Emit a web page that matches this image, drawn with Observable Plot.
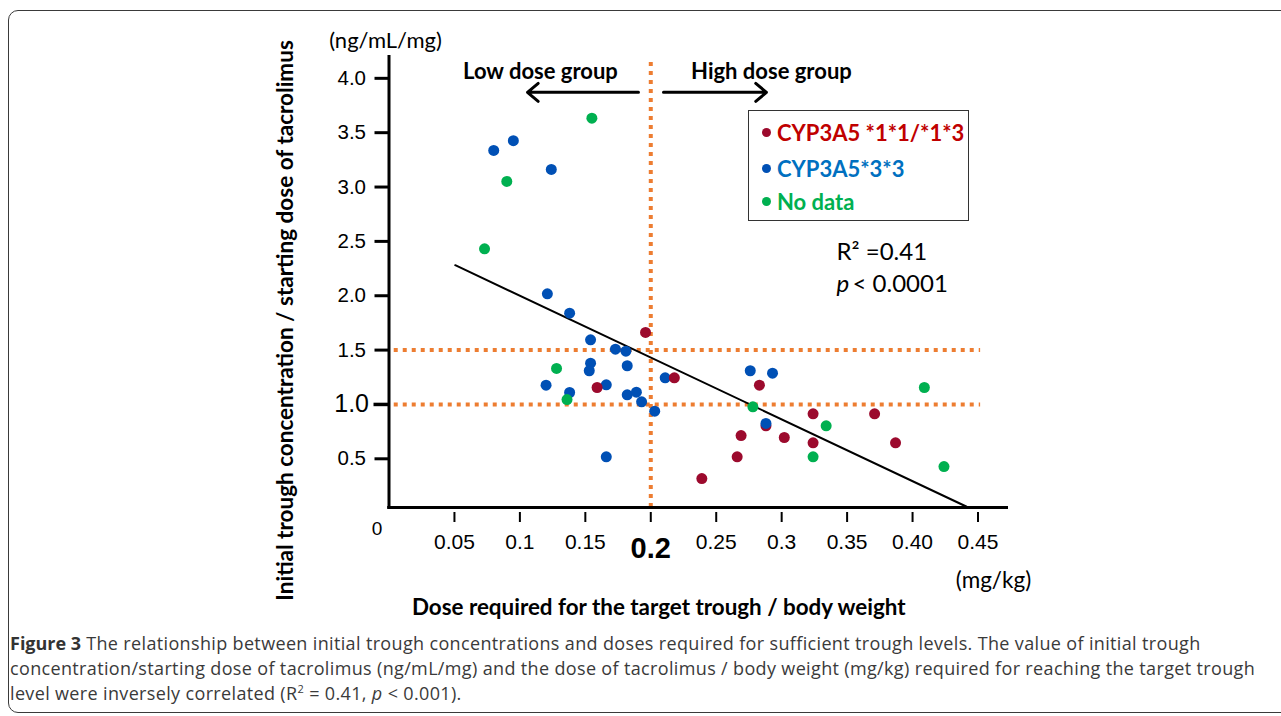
<!DOCTYPE html>
<html><head><meta charset="utf-8">
<script src="https://cdn.jsdelivr.net/npm/d3@7"></script>
<script src="https://cdn.jsdelivr.net/npm/@observablehq/plot@0.6"></script>
<style>
html,body{margin:0;padding:0;background:#fff;overflow:hidden;width:1281px;height:716px}
#wrap{position:relative;width:1281px;height:716px;overflow:hidden}
#frame{position:absolute;left:8px;top:10px;width:1300px;height:703px;border:1.5px solid #3a3a3a;border-radius:10px;box-sizing:border-box}
#chart{position:absolute;left:0;top:0}
#legend{position:absolute;left:748px;top:110px;width:221px;height:111px;border:1.5px solid #333;box-sizing:border-box;background:#fff;font-family:Lato,sans-serif;font-weight:700;font-size:22px}
.row{position:absolute;left:13px;height:26px;display:flex;align-items:center;white-space:nowrap}
.dot{width:9px;height:9px;border-radius:50%;margin-right:6px;flex:none}
#caption{position:absolute;left:10px;top:631px;font-family:'Open Sans',sans-serif;font-size:18px;letter-spacing:0.35px;line-height:25px;color:#3a3a3a;white-space:nowrap}
#caption b{color:#333;letter-spacing:0}
</style></head>
<body>
<div id="wrap">
  <div id="frame"></div>
  <div id="chart"></div>
  <div id="legend"></div>
  <div id="caption"><b>Figure 3</b> The relationship between initial trough concentrations and doses required for sufficient trough levels. The value of initial trough<br>concentration/starting dose of tacrolimus (ng/mL/mg) and the dose of tacrolimus / body weight (mg/kg) required for reaching the target trough<br>level were inversely correlated (R<sup style="font-size:11px;line-height:0">2</sup> = 0.41, <i>p</i> &lt; 0.001).</div>
</div>
<script>
// ---- data ----
const groups = ["CYP3A5 *1*1/*1*3", "CYP3A5*3*3", "No data"];
const groupDotColors = ["#9c0a2d", "#0050b5", "#00b050"];
const groupTextColors = ["#c00000", "#0070c0", "#00b050"];

const redX = [0.196, 0.159, 0.218, 0.283, 0.288, 0.269, 0.266, 0.239, 0.302, 0.324, 0.324, 0.371, 0.387];
const redY = [1.662, 1.156, 1.245, 1.177, 0.803, 0.714, 0.518, 0.318, 0.696, 0.914, 0.647, 0.914, 0.647];

const blueX = [0.095, 0.080, 0.124, 0.121, 0.138, 0.154, 0.173, 0.181, 0.154, 0.153, 0.182, 0.120, 0.138, 0.166, 0.182, 0.189, 0.193, 0.203, 0.211, 0.166, 0.276, 0.293, 0.288];
const blueY = [3.426, 3.337, 3.162, 2.018, 1.840, 1.595, 1.508, 1.490, 1.380, 1.310, 1.356, 1.177, 1.110, 1.181, 1.089, 1.113, 1.024, 0.938, 1.245, 0.518, 1.310, 1.288, 0.825];

const greenX = [0.155, 0.090, 0.073, 0.128, 0.136, 0.278, 0.324, 0.334, 0.409, 0.424];
const greenY = [3.633, 3.052, 2.432, 1.331, 1.045, 0.978, 0.518, 0.803, 1.156, 0.429];

const regX = [0.0506, 0.441];
const regY = [2.281, 0.061];

const cutoffX = [0.2];
const cutoffY = [1.5, 1.0];

const yTicks = [0.5, 1.5, 2.0, 2.5, 3.0, 3.5, 4.0];
const yTickBig = [1.0];
const xTicks = [0.05, 0.1, 0.15, 0.2, 0.25, 0.3, 0.35, 0.4, 0.45];
const xTickLabels = ["0.05", "0.1", "0.15", "", "0.25", "0.3", "0.35", "0.40", "0.45"];
const xTickBig = ["0.2"];

const groupLabels = ["Low dose group", "High dose group"];
const stats = ["R\u00b2 =0.41", "p", "< 0.0001"];
const xTitle = "Dose required for the target trough / body weight";
const yTitle = "Initial trough concentration / starting dose of tacrolimus";
const xUnit = "(mg/kg)";
const yUnit = "(ng/mL/mg)";

// ---- build ----
const mk = (xs, ys) => xs.map((x, i) => ({x, y: ys[i]}));
const red = mk(redX, redY), blue = mk(blueX, blueY), green = mk(greenX, greenY);
const reg = mk(regX, regY);
const orange = "#ed7d31";
const H = 625;
const Y0 = 0.052, Y1 = 4.21, X1 = 0.4733;
const cal = "Lato, sans-serif";
const R = 5.5;

const chart = Plot.plot({
  width: 1281, height: H,
  marginLeft: 388.5, marginRight: 273, marginTop: 55, marginBottom: H - 507,
  x: {domain: [0, X1]},
  y: {domain: [Y0, Y1]},
  style: {fontFamily: "'Liberation Sans', Arial, sans-serif", background: "transparent", overflow: "visible", color: "#000"},
  marks: [
    Plot.ruleY(cutoffY, {x1: 0.004, x2: 0.452, stroke: orange, strokeWidth: 4, strokeDasharray: "4,5"}),
    Plot.ruleX(cutoffX, {y1: Y0, y2: 4.18, stroke: orange, strokeWidth: 4, strokeDasharray: "4,5"}),
    Plot.ruleX([0], {y1: Y0 - 0.012, y2: Y1, stroke: "#000", strokeWidth: 3}),
    Plot.ruleY([Y0], {x1: -0.001, x2: X1, stroke: "#000", strokeWidth: 3}),
    Plot.axisY({ticks: yTicks, tickSize: 14, tickPadding: 9, strokeWidth: 3, fontSize: 20.5, tickFormat: d => d.toFixed(1), label: null}),
    Plot.axisY({ticks: yTickBig, tickSize: 15, tickPadding: 5, strokeWidth: 3.5, fontSize: 25, tickFormat: d => d.toFixed(1), label: null}),
    Plot.axisX({ticks: xTicks, tickSize: 10, dy: 5, tickPadding: 12, strokeWidth: 2, fontSize: 21, tickFormat: d => xTickLabels[xTicks.indexOf(d)], label: null}),
    Plot.text(xTickBig, {x: d => +d, frameAnchor: "bottom", lineAnchor: "middle", dy: 41, fontSize: 29, fontWeight: "bold", text: d => d}),
    Plot.text(["0"], {frameAnchor: "bottom-left", textAnchor: "middle", lineAnchor: "middle", dx: -12, dy: 21, fontSize: 19}),
    Plot.line(reg, {x: "x", y: "y", stroke: "#000", strokeWidth: 2}),
    Plot.dot(red.filter((d, i) => i === 4), {x: "x", y: "y", r: R, fill: groupDotColors[0]}),
    Plot.dot(blue, {x: "x", y: "y", r: R, fill: groupDotColors[1]}),
    Plot.dot(red.filter((d, i) => i !== 4), {x: "x", y: "y", r: R, fill: groupDotColors[0]}),
    Plot.dot(green, {x: "x", y: "y", r: R, fill: groupDotColors[2]}),
    Plot.arrow([{x1: 0.1906, x2: 0.1058, y: 3.871}, {x1: 0.2097, x2: 0.2884, y: 3.871}],
      {x1: "x1", x2: "x2", y1: "y", y2: "y", stroke: "#000", strokeWidth: 3, headLength: 7, headAngle: 80}),
    Plot.text([{t: groupLabels[0], x: 0.1157}, {t: groupLabels[1], x: 0.2922}], {x: "x", y: () => 4.055, text: "t", fontFamily: cal, fontWeight: "bold", fontSize: 22}),
    Plot.text([stats[0]], {x: () => 0.3419, y: () => 2.398, textAnchor: "start", fontFamily: cal, fontSize: 24}),
    Plot.text([stats[1]], {x: () => 0.3419, y: () => 2.103, textAnchor: "start", fontFamily: cal, fontSize: 24, fontStyle: "italic"}),
    Plot.text([stats[2]], {x: () => 0.3541, y: () => 2.103, textAnchor: "start", fontFamily: cal, fontSize: 24}),
    Plot.text([yTitle], {frameAnchor: "left", textAnchor: "middle", lineAnchor: "middle", dx: -103.5, dy: 39, rotate: -90, fontFamily: cal, fontWeight: "bold", fontSize: 22.5}),
    Plot.text([xTitle], {frameAnchor: "bottom", textAnchor: "middle", lineAnchor: "middle", dx: -40, dy: 100, fontFamily: cal, fontWeight: "bold", fontSize: 22.4}),
    Plot.text([xUnit], {frameAnchor: "bottom-right", textAnchor: "middle", lineAnchor: "middle", dx: -15, dy: 73, fontFamily: cal, fontSize: 22.5}),
    Plot.text([yUnit], {frameAnchor: "top-left", textAnchor: "middle", lineAnchor: "middle", dx: -3.5, dy: -15, fontFamily: cal, fontSize: 22})
  ]
});
document.getElementById("chart").appendChild(chart);

const legend = document.getElementById("legend");
const rowTops = [8, 44, 77];
groups.forEach((g, i) => {
  const row = document.createElement("div");
  row.className = "row";
  row.style.top = rowTops[i] + "px";
  const dot = document.createElement("span");
  dot.className = "dot";
  dot.style.background = groupDotColors[i];
  const lab = document.createElement("span");
  lab.textContent = g;
  lab.style.color = groupTextColors[i];
  row.appendChild(dot); row.appendChild(lab);
  legend.appendChild(row);
});
</script>
</body></html>
